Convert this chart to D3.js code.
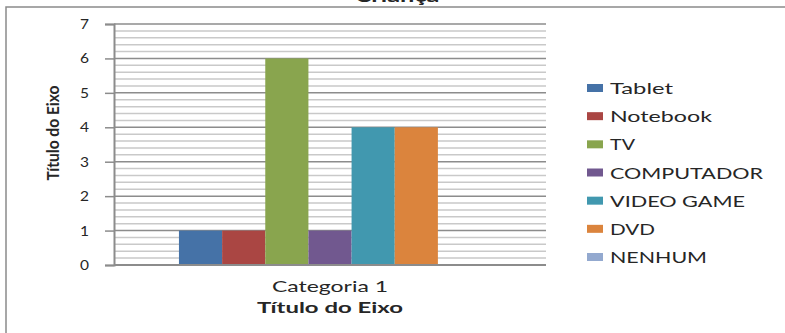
<!DOCTYPE html>
<html>
<head>
<meta charset="utf-8">
<script src="https://cdn.jsdelivr.net/npm/d3@7"></script>
<style>
  html, body { margin: 0; padding: 0; background: #fff; }
  svg { display: block; }
  text { font-family: Lato, "Open Sans", sans-serif; fill: #262626; }
</style>
</head>
<body>
<svg id="chart" width="785" height="333"></svg>
<script>
// Chart data
const chartTitle = "Criança";
const categories = ["Categoria 1"];
const seriesNames = ["Tablet", "Notebook", "TV", "COMPUTADOR", "VIDEO GAME", "DVD", "NENHUM"];
const seriesValues = [1, 1, 6, 1, 4, 4, 0];
const seriesColors = ["#4572A7", "#AA4643", "#89A54E", "#71588F", "#4198AF", "#DB843D", "#93A9CF"];
const yTicks = [0, 1, 2, 3, 4, 5, 6, 7];
const yAxisTitle = "Título do Eixo";
const xAxisTitle = "Título do Eixo";

// Rendered widths of the wide legend/axis lettering
const legendWidths = [63, 102, 25, 153, 135, 45, 97];

const svg = d3.select("#chart");

// Outer chart frame (runs past the right and bottom edges)
svg.append("rect")
  .attr("x", 6).attr("y", 7)
  .attr("width", 800).attr("height", 340)
  .attr("fill", "none").attr("stroke", "#8a8a8a").attr("stroke-width", 1.5);

// Title, sitting mostly above the top edge
svg.append("text")
  .attr("x", 397).attr("y", 2)
  .attr("text-anchor", "middle")
  .attr("font-weight", "bold").attr("font-size", 18)
  .attr("textLength", 85).attr("lengthAdjust", "spacingAndGlyphs")
  .text(chartTitle);

const plot = { left: 114, right: 546, top: 24, bottom: 265 };

const y = d3.scaleLinear().domain([0, 7]).range([plot.bottom, plot.top]);
const x = d3.scaleBand().domain(categories).range([plot.left, plot.right])
  .paddingInner(0).paddingOuter(0.215);
const xs = d3.scaleBand().domain(seriesNames).range([0, x.bandwidth()]).padding(0);

// Minor gridlines every 0.2
const minor = d3.range(0, 7.0001, 0.2).filter(v => Math.abs(v - Math.round(v)) > 1e-6);
svg.append("g").selectAll("line").data(minor).join("line")
  .attr("x1", plot.left).attr("x2", plot.right)
  .attr("y1", d => y(d)).attr("y2", d => y(d))
  .attr("stroke", "#c9c9c9").attr("stroke-width", 1.5);

// Major gridlines
svg.append("g").selectAll("line").data(yTicks.filter(d => d > 0)).join("line")
  .attr("x1", plot.left).attr("x2", plot.right)
  .attr("y1", d => y(d)).attr("y2", d => y(d))
  .attr("stroke", "#8c8c8c").attr("stroke-width", 1.5);

// Bars
svg.append("g").selectAll("rect").data(seriesNames.map((s, i) => ({ s, v: seriesValues[i], c: seriesColors[i] })))
  .join("rect")
  .attr("x", d => x(categories[0]) + xs(d.s))
  .attr("y", d => y(d.v))
  .attr("width", xs.bandwidth())
  .attr("height", d => y(0) - y(d.v))
  .attr("fill", d => d.c);

// Y axis
const yAxis = d3.axisLeft(y).tickValues(yTicks).tickSize(9).tickPadding(16).tickFormat(d3.format("d"));
const gy = svg.append("g").attr("transform", `translate(${plot.left},0)`).call(yAxis);
gy.select(".domain").attr("stroke", "#8c8c8c").attr("stroke-width", 2);
gy.selectAll(".tick line").attr("stroke", "#8c8c8c").attr("stroke-width", 1.5);
gy.selectAll(".tick text")
  .attr("font-family", "Lato, sans-serif").attr("font-size", 14).attr("fill", "#262626")
  .attr("textLength", 9).attr("lengthAdjust", "spacingAndGlyphs");

// X axis line
svg.append("line")
  .attr("x1", plot.left).attr("x2", plot.right)
  .attr("y1", y(0)).attr("y2", y(0))
  .attr("stroke", "#8c8c8c").attr("stroke-width", 2);

// Category label
svg.append("g").selectAll("text").data(categories).join("text")
  .attr("x", d => x(d) + x.bandwidth() / 2).attr("y", 292)
  .attr("text-anchor", "middle").attr("font-size", 16).attr("fill", "#3a3a3a")
  .attr("textLength", 116).attr("lengthAdjust", "spacingAndGlyphs")
  .text(d => d);

// X axis title
svg.append("text")
  .attr("x", (plot.left + plot.right) / 2).attr("y", 313)
  .attr("text-anchor", "middle").attr("font-weight", "bold").attr("font-size", 15)
  .attr("fill", "#000")
  .attr("textLength", 146).attr("lengthAdjust", "spacingAndGlyphs")
  .text(xAxisTitle);

// Y axis title
svg.append("text")
  .attr("transform", "translate(59,133) rotate(-90)")
  .attr("text-anchor", "middle").attr("font-weight", "bold").attr("font-size", 17)
  .attr("fill", "#000")
  .attr("textLength", 95).attr("lengthAdjust", "spacingAndGlyphs")
  .text(yAxisTitle);

// Legend
const legendY = d3.scalePoint().domain(seriesNames).range([88, 257]);
const lg = svg.append("g").selectAll("g").data(seriesNames).join("g")
  .attr("transform", d => `translate(587,${legendY(d)})`);
lg.append("rect")
  .attr("x", 0).attr("y", -4).attr("width", 16).attr("height", 8)
  .attr("fill", (d, i) => seriesColors[i]);
lg.append("text")
  .attr("x", 23).attr("y", 6)
  .attr("font-size", 16).attr("fill", "#262626")
  .attr("textLength", (d, i) => legendWidths[i]).attr("lengthAdjust", "spacingAndGlyphs")
  .text(d => d);
</script>
</body>
</html>
